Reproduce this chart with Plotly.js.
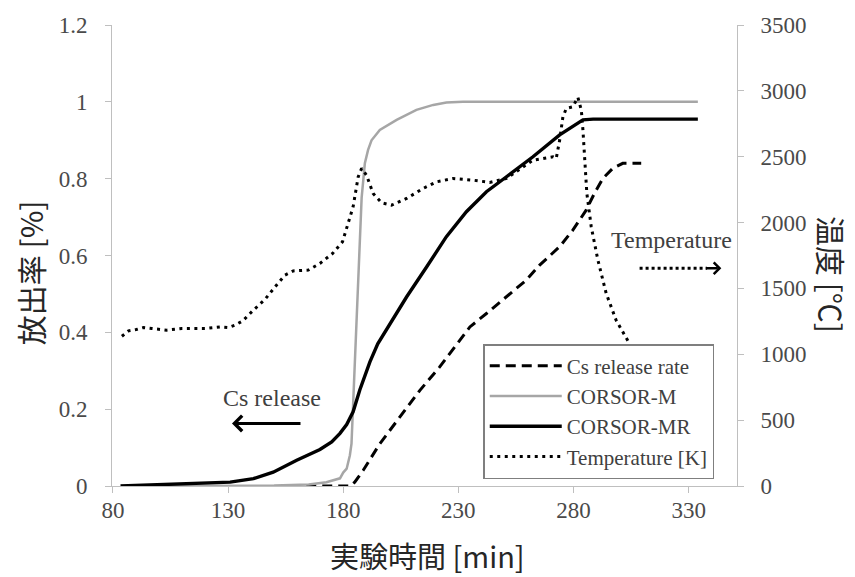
<!DOCTYPE html>
<html>
<head>
<meta charset="utf-8">
<script src="https://cdn.plot.ly/plotly-3.0.1.min.js"></script>
<style>html,body{margin:0;padding:0;background:#fff;}#chart{width:855px;height:577px;}</style>
</head>
<body>
<div id="chart"></div>
<script>
// ---- data ----
var csTime  = [157, 183, 185, 188.7, 195.9, 204.6, 213.3, 221.9, 230.6, 235, 242.2, 250.9, 259.5, 265.3, 274, 279.7, 285.5, 289.1, 292.8, 297.1, 301.4, 309.4];
var csRate  = [0, 0, 0.01, 0.041, 0.11, 0.18, 0.249, 0.31, 0.38, 0.414, 0.449, 0.492, 0.536, 0.575, 0.623, 0.666, 0.718, 0.762, 0.801, 0.827, 0.84, 0.84];

var mTime   = [83.5, 120, 150, 165, 172.7, 178.6, 180, 181.5, 182.9, 183.6, 185.1, 186.5, 188, 189.4, 190.8, 192.3, 195.9, 203.2, 211.8, 219.1, 224.8, 232, 334];
var mRel    = [0, 0, 0.001, 0.004, 0.01, 0.02, 0.035, 0.045, 0.08, 0.11, 0.33, 0.53, 0.75, 0.84, 0.875, 0.9, 0.927, 0.953, 0.979, 0.992, 0.998, 1.0, 1.0];

var mrTime  = [83.3, 109.2, 130.9, 141, 149.6, 159.8, 169.9, 175, 178.6, 181.5, 184.3, 187.2, 191.6, 195, 198.8, 207.5, 216.2, 224.8, 233.5, 242.2, 250.9, 262.4, 274, 279.7, 284.1, 288.5, 334];
var mrRel   = [0, 0.005, 0.01, 0.019, 0.036, 0.067, 0.095, 0.115, 0.137, 0.16, 0.193, 0.25, 0.323, 0.37, 0.406, 0.492, 0.57, 0.649, 0.714, 0.766, 0.805, 0.857, 0.914, 0.935, 0.953, 0.955, 0.955];

var tTime   = [83.9, 86.8, 90.1, 93.3, 96.9, 103.4, 109.9, 120, 126.5, 130.1, 133, 136.4, 141, 146, 150.4, 154.7, 158.3, 164.8, 169.9, 175.4, 179.7, 181.5, 184.3, 186.5, 188, 190.1, 193, 196.7, 201, 207.5, 214.7, 220.5, 227.7, 236.4, 243.6, 250.9, 262.4, 271.1, 272.5, 274, 275.4, 276.9, 279.7, 281.9, 283.4, 284.1, 284.8, 285.8, 287.7, 290.6, 294.2, 298.5, 304.3, 307];
var tTemp   = [1137, 1178, 1188, 1203, 1196, 1183, 1196, 1196, 1208, 1203, 1221, 1254, 1335, 1416, 1512, 1601, 1633, 1639, 1690, 1766, 1854, 1955, 2120, 2347, 2411, 2360, 2221, 2150, 2132, 2183, 2259, 2309, 2335, 2322, 2305, 2335, 2474, 2499, 2487, 2626, 2803, 2867, 2879, 2951, 2854, 2702, 2474, 2221, 1968, 1715, 1462, 1259, 1082, 960];

var xTicks  = [80, 130, 180, 230, 280, 330];
var seriesNames = ['Cs release rate', 'CORSOR-M', 'CORSOR-MR', 'Temperature [K]'];

// ---- styling ----
var serif = 'Liberation Serif, Times New Roman, serif';
var sans  = 'Noto Sans CJK JP, Noto Sans, sans-serif';
var axisGray = '#bfbfbf';
var tickFont = {family: serif, size: 23, color: '#4a4a4a'};

var traces = [
  {x: csTime, y: csRate, name: seriesNames[0], mode: 'lines', type: 'scatter',
   line: {color: '#000', width: 3, dash: '10px,6px'}},
  {x: mTime, y: mRel, name: seriesNames[1], mode: 'lines', type: 'scatter',
   line: {color: '#a6a6a6', width: 2.5}},
  {x: mrTime, y: mrRel, name: seriesNames[2], mode: 'lines', type: 'scatter',
   line: {color: '#000', width: 3.4}},
  {x: tTime, y: tTemp, name: seriesNames[3], mode: 'lines', type: 'scatter', yaxis: 'y2',
   line: {color: '#000', width: 3, dash: '3px,4.5px'}}
];

var layout = {
  width: 855, height: 577,
  margin: {l: 112, r: 118, t: 25, b: 91},
  paper_bgcolor: '#fff', plot_bgcolor: '#fff',
  showlegend: true,
  xaxis: {
    range: [79.6, 351], tickvals: xTicks, ticktext: xTicks.map(String),
    showline: true, linecolor: axisGray, linewidth: 1,
    ticks: 'outside', ticklen: 6, tickcolor: axisGray,
    showgrid: false, zeroline: false, tickfont: tickFont, ticklabelstandoff: -3
  },
  yaxis: {
    range: [0, 1.2], dtick: 0.2, tick0: 0,
    showline: true, linecolor: axisGray, linewidth: 1,
    ticks: 'outside', ticklen: 6, tickcolor: axisGray,
    showgrid: false, zeroline: false, tickfont: tickFont, ticklabelstandoff: 13
  },
  yaxis2: {
    range: [0, 3500], dtick: 500, tick0: 0, overlaying: 'y', side: 'right',
    showline: true, linecolor: axisGray, linewidth: 1,
    ticks: 'outside', ticklen: 6, tickcolor: axisGray,
    showgrid: false, zeroline: false, tickfont: tickFont, ticklabelstandoff: 12
  },
  legend: {
    x: 0.594, y: 0.308, xanchor: 'left', yanchor: 'top',
    bgcolor: '#fff', bordercolor: '#7f7f7f', borderwidth: 1.5,
    font: {family: serif, size: 21, color: '#404040'},
    itemwidth: 72, entrywidth: 240, entrywidthmode: 'pixels', tracegroupgap: 0
  },
  shapes: [
    {type: 'line', xref: 'x', yref: 'y', x0: 308.7, x1: 338, y0: 0.567, y1: 0.567,
     line: {color: '#000', width: 3, dash: 'dot'}}
  ],
  annotations: [
    {text: '放出率 [%]', xref: 'paper', yref: 'paper', x: -0.131, y: 0.462, textangle: -90,
     showarrow: false, xanchor: 'center', yanchor: 'middle', font: {family: sans, size: 30, color: '#262626'}},
    {text: '実験時間 [min]', xref: 'paper', yref: 'paper', x: 0.504, y: -0.1497,
     showarrow: false, xanchor: 'center', yanchor: 'middle', font: {family: sans, size: 29, color: '#262626'}},
    {text: '温度 [℃]', xref: 'paper', yref: 'paper', x: 1.152, y: 0.46, textangle: 90,
     showarrow: false, xanchor: 'center', yanchor: 'middle', font: {family: sans, size: 30, color: '#262626'}},
    {text: 'Cs release', xref: 'x', yref: 'y', x: 149.1, y: 0.228, showarrow: false,
     xanchor: 'center', yanchor: 'middle', font: {family: serif, size: 24, color: '#404040'}},
    {text: '', xref: 'x', yref: 'y', x: 131.7, y: 0.163, axref: 'x', ayref: 'y', ax: 162.1, ay: 0.163,
     showarrow: true, arrowhead: 4, arrowsize: 1, arrowwidth: 3, arrowcolor: '#000'},
    {text: 'Temperature', xref: 'x', yref: 'y', x: 322.5, y: 0.64, showarrow: false,
     xanchor: 'center', yanchor: 'middle', font: {family: serif, size: 24, color: '#404040'}},
    {text: '', xref: 'x', yref: 'y', x: 344.2, y: 0.567, axref: 'x', ayref: 'y', ax: 337, ay: 0.567,
     showarrow: true, arrowhead: 4, arrowsize: 0.9, arrowwidth: 2.5, arrowcolor: '#000'}
  ]
};

Plotly.newPlot('chart', traces, layout, {displayModeBar: false, staticPlot: true});
</script>
</body>
</html>
